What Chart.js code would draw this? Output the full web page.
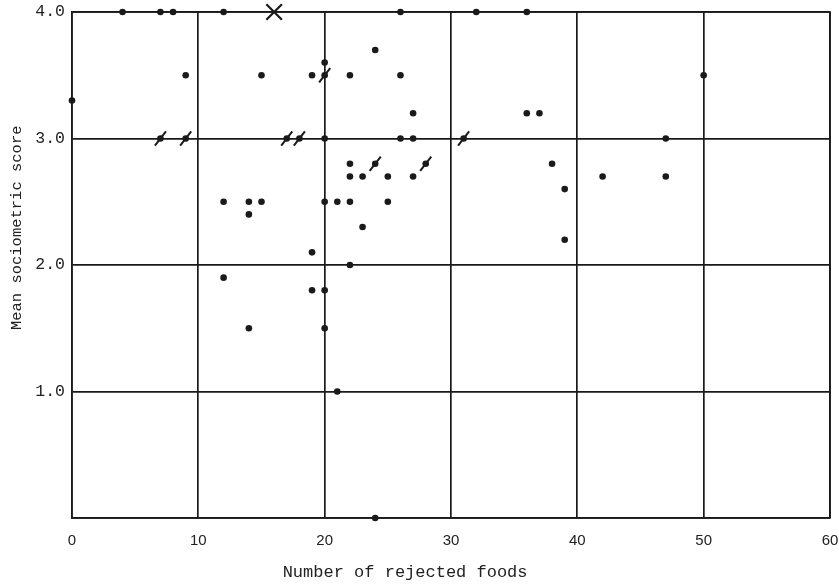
<!DOCTYPE html>
<html>
<head>
<meta charset="utf-8">
<script src="https://cdn.jsdelivr.net/npm/chart.js@4"></script>
<style>
  html, body { margin: 0; padding: 0; background: #ffffff; }
  #wrap { width: 839px; height: 586px; }
</style>
</head>
<body>
<div id="wrap"><canvas id="c" width="839" height="586"></canvas></div>
<script>
// Plain points (number of rejected foods, mean sociometric score)
const dotX = [4, 7, 8, 12, 26, 32, 36,
  0, 9, 15, 19, 20, 22, 26, 24, 50,
  27, 36, 37,
  20, 26, 27, 47,
  38, 39, 39, 42, 47,
  22, 22, 23, 25, 27,
  12, 14, 15, 14, 20, 21, 22, 25,
  23, 19, 22, 12, 19, 20,
  14, 20, 21, 24];
const dotY = [4.0, 4.0, 4.0, 4.0, 4.0, 4.0, 4.0,
  3.3, 3.5, 3.5, 3.5, 3.6, 3.5, 3.5, 3.7, 3.5,
  3.2, 3.2, 3.2,
  3.0, 3.0, 3.0, 3.0,
  2.8, 2.6, 2.2, 2.7, 2.7,
  2.8, 2.7, 2.7, 2.7, 2.7,
  2.5, 2.5, 2.5, 2.4, 2.5, 2.5, 2.5, 2.5,
  2.3, 2.1, 2.0, 1.9, 1.8, 1.8,
  1.5, 1.5, 1.0, 0.0];
// Points marked with a slash
const slashX = [7, 9, 17, 18, 31, 20, 24, 28];
const slashY = [3.0, 3.0, 3.0, 3.0, 3.0, 3.5, 2.8, 2.8];
// Point marked with a cross
const crossX = [16];
const crossY = [4.0];

const xTicks = [0, 10, 20, 30, 40, 50, 60];
const yTicks = [1.0, 2.0, 3.0, 4.0];

const pts = (xs, ys) => xs.map((x, i) => ({ x: x, y: ys[i] }));

const INK = '#1a1a1a';

new Chart(document.getElementById('c'), {
  type: 'scatter',
  data: {
    datasets: [
      {
        label: 'dots',
        data: pts(dotX.concat(slashX), dotY.concat(slashY)),
        pointStyle: 'circle',
        pointRadius: 3.3,
        backgroundColor: INK,
        borderColor: INK,
        borderWidth: 0,
        clip: false
      },
      {
        label: 'slashed',
        data: pts(slashX, slashY),
        pointStyle: 'line',
        pointRadius: 9,
        rotation: -52,
        borderColor: INK,
        borderWidth: 2,
        clip: false
      },
      {
        label: 'cross',
        data: pts(crossX, crossY),
        pointStyle: 'crossRot',
        pointRadius: 11,
        borderColor: INK,
        borderWidth: 2.2,
        clip: false
      }
    ]
  },
  options: {
    responsive: false,
    animation: false,
    events: [],
    layout: { autoPadding: false, padding: { left: 0, right: 9, top: 12, bottom: 0 } },
    plugins: {
      legend: { display: false },
      tooltip: { enabled: false }
    },
    scales: {
      x: {
        type: 'linear',
        min: 0,
        max: 60,
        afterFit: s => { s.height = 68; s.paddingLeft = 0; s.paddingRight = 0; },
        afterBuildTicks: s => { s.ticks = xTicks.map(v => ({ value: v })); },
        grid: { color: INK, lineWidth: 1.7, drawTicks: false },
        border: { color: INK, width: 1.7 },
        ticks: {
          padding: 14,
          color: '#222',
          font: { family: '"Liberation Sans", Arial, sans-serif', size: 15 },
          callback: v => String(v)
        },
        title: {
          display: true,
          text: 'Number of rejected foods         ',
          color: '#222',
          font: { family: '"Liberation Mono", "Courier New", monospace', size: 17 },
          padding: { top: 0, bottom: 3 }
        }
      },
      y: {
        type: 'linear',
        min: 0,
        max: 4,
        afterFit: s => { s.width = 72; s.paddingTop = 0; s.paddingBottom = 0; },
        afterBuildTicks: s => { s.ticks = [0].concat(yTicks).map(v => ({ value: v })); },
        grid: { color: INK, lineWidth: 1.7, drawTicks: false },
        border: { color: INK, width: 1.7 },
        ticks: {
          padding: 7,
          color: '#222',
          font: { family: '"Liberation Mono", "Courier New", monospace', size: 16.5 },
          callback: v => (v === 0 ? '' : Number(v).toFixed(1))
        },
        title: {
          display: true,
          text: '        Mean sociometric score',
          color: '#222',
          font: { family: '"Liberation Mono", "Courier New", monospace', size: 15.5 },
          padding: { top: 8, bottom: 0 }
        }
      }
    }
  },
  plugins: [{
    id: 'rightTopBorder',
    afterDraw(chart) {
      const { ctx, chartArea: a } = chart;
      ctx.save();
      ctx.strokeStyle = INK;
      ctx.lineWidth = 1.7;
      ctx.beginPath();
      ctx.moveTo(a.left, a.top);
      ctx.lineTo(a.right, a.top);
      ctx.lineTo(a.right, a.bottom);
      ctx.stroke();
      ctx.restore();
    }
  }]
});
</script>
</body>
</html>
